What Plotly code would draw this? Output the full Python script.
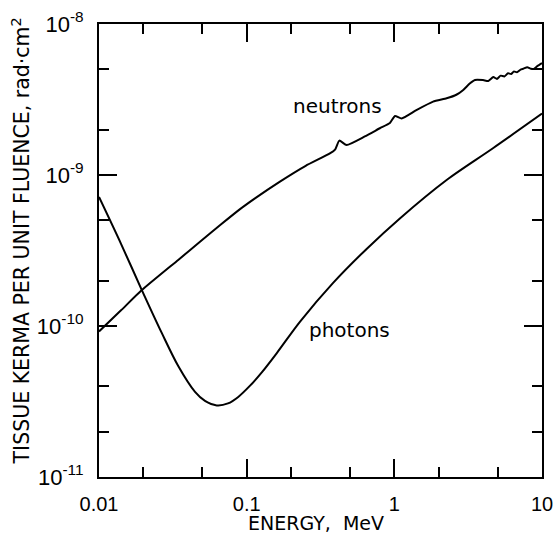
import plotly.graph_objects as go

# Tissue kerma per unit fluence (rad·cm²) versus particle energy (MeV)
neutron_energy = [0.01, 0.0141, 0.0195, 0.0344, 0.0483, 0.0678, 0.0902, 0.1138, 0.168,
                  0.251, 0.366, 0.398, 0.424, 0.475, 0.631, 0.798, 0.933, 1.01, 1.12,
                  1.41, 1.83, 2.26, 2.63, 2.93, 3.24, 3.52, 3.98, 4.33, 4.68, 4.95,
                  5.25, 5.56, 5.89, 6.17, 6.46, 6.76, 7.16, 7.50, 7.94, 8.41, 8.81,
                  9.33, 10.0]
neutron_kerma = [9.2e-11, 1.27e-10, 1.73e-10, 2.74e-10, 3.61e-10, 4.75e-10, 5.94e-10,
                 7.0e-10, 9.04e-10, 1.15e-9, 1.39e-9, 1.48e-9, 1.69e-9, 1.58e-9,
                 1.80e-9, 2.04e-9, 2.21e-9, 2.46e-9, 2.37e-9, 2.69e-9, 3.06e-9,
                 3.22e-9, 3.40e-9, 3.66e-9, 4.03e-9, 4.26e-9, 4.25e-9, 4.19e-9,
                 4.45e-9, 4.33e-9, 4.55e-9, 4.49e-9, 4.72e-9, 4.66e-9, 4.85e-9,
                 4.79e-9, 4.99e-9, 5.06e-9, 5.18e-9, 5.06e-9, 5.04e-9, 5.28e-9,
                 5.52e-9]

photon_energy = [0.01, 0.0141, 0.0195, 0.0266, 0.0344, 0.0447, 0.0522, 0.0627, 0.0747,
                 0.0877, 0.105, 0.127, 0.160, 0.230, 0.385, 0.649, 1.09, 2.26, 4.68,
                 10.0]
photon_kerma = [7.15e-10, 3.50e-10, 1.73e-10, 9.0e-11, 5.43e-11, 3.66e-11, 3.19e-11,
                2.98e-11, 3.07e-11, 3.39e-11, 4.01e-11, 4.95e-11, 6.62e-11, 1.07e-10,
                1.93e-10, 3.24e-10, 5.16e-10, 9.27e-10, 1.51e-9, 2.55e-9]

x_major = [0.01, 0.1, 1, 10]
x_major_text = ["0.01", "0.1", "1", "10"]
x_minor = [0.02, 0.05, 0.2, 0.5, 2, 5]

y_major = [1e-11, 1e-10, 1e-9, 1e-8]
y_major_text = ["10<sup>-11</sup>", "10<sup>-10</sup>", "10<sup>-9</sup>", "10<sup>-8</sup>"]
y_minor = [2e-11, 4e-11, 2e-10, 5e-10, 2e-9, 5e-9]

FONT = "Liberation Sans"
LABEL_FONT = "DejaVu Sans"

fig = go.Figure()
fig.add_trace(go.Scatter(x=neutron_energy, y=neutron_kerma, mode="lines",
                         line=dict(color="black", width=2, shape="spline", smoothing=0.5),
                         name="neutrons", showlegend=False))
fig.add_trace(go.Scatter(x=photon_energy, y=photon_kerma, mode="lines",
                         line=dict(color="black", width=2, shape="spline", smoothing=0.9),
                         name="photons", showlegend=False))

axis_common = dict(
    type="log", showgrid=False, zeroline=False, automargin=False,
    showline=True, linecolor="black", linewidth=2, mirror="ticks",
    ticks="inside", ticklen=18, tickwidth=1.5, tickcolor="black",
)

fig.update_xaxes(**axis_common, range=[-2, 1], tickmode="array",
                 tickvals=x_major, ticktext=x_major_text, ticklabelstandoff=8,
                 tickfont=dict(family=FONT, size=20, color="black"),
                 minor=dict(tickmode="array", tickvals=x_minor, ticks="inside",
                            ticklen=10, tickwidth=1.5, tickcolor="black"))
fig.update_yaxes(**axis_common, range=[-11, -8], tickmode="array",
                 tickvals=y_major, ticktext=y_major_text, ticklabelstandoff=9,
                 tickfont=dict(family=FONT, size=22, color="black"),
                 minor=dict(tickmode="array", tickvals=y_minor, ticks="inside",
                            ticklen=10, tickwidth=1.5, tickcolor="black"))

fig.add_annotation(text="TISSUE KERMA PER UNIT FLUENCE, rad·cm<sup>2</sup>",
                   xref="paper", yref="paper", x=0, y=0.52, xshift=-78,
                   xanchor="center", yanchor="middle", textangle=-90, showarrow=False,
                   font=dict(family=LABEL_FONT, size=20.5, color="black"))
fig.add_annotation(text="ENERGY,  MeV", xref="paper", yref="paper", x=0.49, y=0,
                   yshift=-46, xanchor="center", yanchor="middle", showarrow=False,
                   font=dict(family=LABEL_FONT, size=19, color="black"))
fig.add_annotation(text="neutrons", x=-0.382, y=-8.543, xref="x", yref="y",
                   showarrow=False, font=dict(family=LABEL_FONT, size=20, color="black"))
fig.add_annotation(text="photons", x=-0.307, y=-10.026, xref="x", yref="y",
                   showarrow=False, font=dict(family=LABEL_FONT, size=20, color="black"))

fig.update_layout(width=556, height=533,
                  margin=dict(l=99, r=14, t=24, b=56, autoexpand=False),
                  paper_bgcolor="white", plot_bgcolor="white")

fig.write_html("out.html")
